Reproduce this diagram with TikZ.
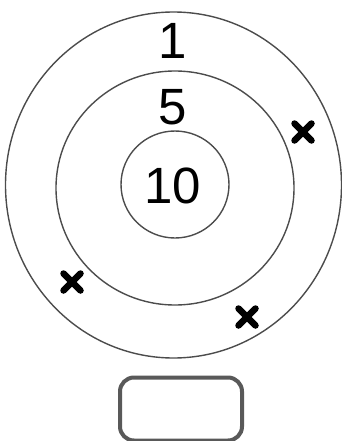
\documentclass[tikz,border=0pt]{standalone}
\usepackage{fontspec}
\setmainfont{Liberation Sans}
\begin{document}
\begin{tikzpicture}[x=1pt,y=-1pt,
  ring/.style={draw=black!70,line width=1.4pt},
  num/.style={font=\fontsize{51}{51}\selectfont,inner sep=0pt,text=black},
  xmark/.style={line width=6.5pt,line cap=round,black}]
\useasboundingbox (0,0) rectangle (342,441);
\draw[ring] (173.5,185) ellipse [x radius=168,y radius=173];
\draw[ring] (175,188) ellipse [x radius=119,y radius=117];
\draw[ring] (175,184.5) ellipse [x radius=54,y radius=53.5];
\node[num] (one) at (173,41) {1};
\node[num] (five) at (173,107) {5};
\node[num] (ten) at (173,186) {10};
\foreach \n/\cx/\cy in {a/303/132, b/72/282, c/247/317}{
  \coordinate (\n) at (\cx,\cy);
  \draw[xmark] ([shift={(-8.5,-8.5)}]\n) -- ([shift={(8.5,8.5)}]\n);
  \draw[xmark] ([shift={(-8.5,8.5)}]\n) -- ([shift={(8.5,-8.5)}]\n);
}
\node[draw=black!65,line width=4pt,rounded corners=14pt,minimum width=122pt,minimum height=63pt,inner sep=0pt] (box) at (181,409) {};
\end{tikzpicture}
\end{document}
